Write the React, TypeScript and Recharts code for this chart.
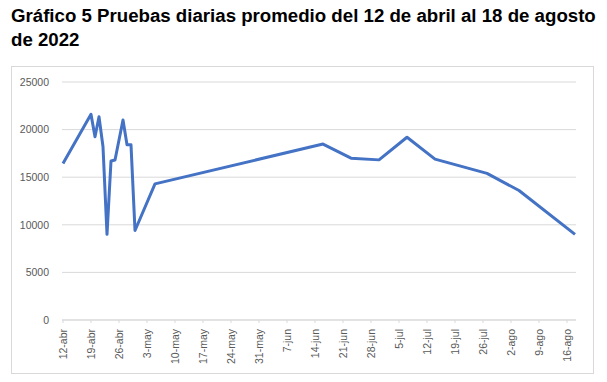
import React from "react"
import { CartesianGrid, Line, LineChart, XAxis, YAxis } from "recharts"

// fechas de los datos (2022) y pruebas diarias promedio
const dates = [
  "2022-04-12", "2022-04-19", "2022-04-20", "2022-04-21", "2022-04-22", "2022-04-23",
  "2022-04-24", "2022-04-25", "2022-04-27", "2022-04-28", "2022-04-29", "2022-04-30",
  "2022-05-05", "2022-06-16", "2022-06-23", "2022-06-30", "2022-07-07", "2022-07-14",
  "2022-07-27", "2022-08-04", "2022-08-18",
]
const pruebas = [
  16450, 21600, 19250, 21350, 18200, 9000,
  16700, 16800, 21000, 18400, 18400, 9400,
  14300, 18480, 17000, 16820, 19200, 16900,
  15400, 13600, 9000,
]
const tickLabels = [
  "12-abr", "19-abr", "26-abr", "3-may", "10-may", "17-may", "24-may", "31-may",
  "7-jun", "14-jun", "21-jun", "28-jun", "5-jul", "12-jul", "19-jul", "26-jul",
  "2-ago", "9-ago", "16-ago",
]
const yTicks = [0, 5000, 10000, 15000, 20000, 25000]

const DAY = 24 * 3600 * 1000
const start = Date.UTC(2022, 3, 12)
const dayOf = (s: string) => {
  const [y, m, d] = s.split("-").map(Number)
  return Math.round((Date.UTC(y, m - 1, d) - start) / DAY)
}

const data = dates.map((d, i) => ({ day: dayOf(d), value: pruebas[i] }))
const xTicks = tickLabels.map((_, i) => i * 7)

const font = "'Liberation Sans', Arial, sans-serif"

const XTick = (props: any) => {
  const { x, y, payload } = props
  return (
    <text
      x={x}
      y={y + 4}
      dy="0.35em"
      textAnchor="end"
      transform={`rotate(-90, ${x}, ${y + 4})`}
      fill="#595959"
      fontSize={10.5}
      fontFamily={font}
    >
      {tickLabels[payload.index] ?? tickLabels[Math.round(payload.value / 7)]}
    </text>
  )
}

export default function App() {
  return (
    <div style={{ position: "absolute", left: 0, top: 0, width: 607, height: 382, background: "#fff" }}>
      <div
        style={{
          position: "absolute",
          left: 11,
          top: 4,
          width: 600,
          fontFamily: font,
          fontWeight: "bold",
          fontSize: "14pt",
          lineHeight: "24px",
          color: "#000",
        }}
      >
        Gráfico 5 Pruebas diarias promedio del 12 de abril al 18 de agosto
        <br />
        de 2022
      </div>
      <div
        style={{
          position: "absolute",
          left: 11,
          top: 66,
          width: 581,
          height: 306,
          border: "1px solid #d9d9d9",
        }}
      />
      <div style={{ position: "absolute", left: 12, top: 67 }}>
        <LineChart width={580} height={306} data={data} margin={{ top: 15, right: 16, left: 0, bottom: 0 }}>
          <CartesianGrid vertical={false} stroke="#d9d9d9" />
          <XAxis
            dataKey="day"
            type="number"
            domain={[-0.25, 128.25]}
            ticks={xTicks}
            interval={0}
            height={53}
            tick={<XTick />}
            tickSize={3}
            tickLine={{ stroke: "#d9d9d9" }}
            axisLine={{ stroke: "#d9d9d9" }}
          />
          <YAxis
            domain={[0, 25000]}
            ticks={yTicks}
            width={50}
            axisLine={false}
            tickLine={false}
            tickMargin={7}
            tick={{ fill: "#595959", fontSize: 10.5, fontFamily: font }}
          />
          <Line
            type="linear"
            dataKey="value"
            stroke="#4472c4"
            strokeWidth={3}
            dot={false}
            strokeLinejoin="round"
            isAnimationActive={false}
          />
        </LineChart>
      </div>
    </div>
  )
}
